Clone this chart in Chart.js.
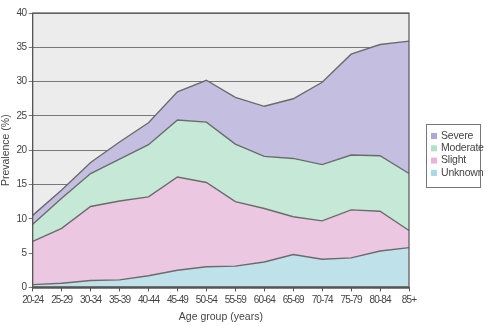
<!DOCTYPE html>
<html><head><meta charset="utf-8">
<script src="https://cdn.jsdelivr.net/npm/chart.js@4/dist/chart.umd.min.js"></script>
<style>html,body{margin:0;padding:0;background:#fff}#w{width:488px;height:326px}</style>
</head><body><div id="w"><canvas id="c" width="488" height="326"></canvas></div>
<script>
const categories = ["20-24","25-29","30-34","35-39","40-44","45-49","50-54","55-59","60-64","65-69","70-74","75-79","80-84","85+"];
const unknownVals  = [0.4,0.6,1.0,1.1,1.7,2.5,3.0,3.1,3.7,4.8,4.1,4.3,5.3,5.8];
const slightVals   = [6.3,8.0,10.8,11.5,11.5,13.6,12.3,9.4,7.8,5.5,5.6,7.0,5.8,2.5];
const moderateVals = [2.5,4.4,4.8,6.1,7.6,8.3,8.8,8.4,7.6,8.5,8.2,8.0,8.1,8.3];
const severeVals   = [1.3,1.2,1.6,2.5,3.2,4.1,6.1,6.8,7.3,8.7,12.0,14.7,16.2,19.3];
const seriesNames = ["Unknown","Slight","Moderate","Severe"];
const seriesColors = ["#bfe1ea","#ecc7e1","#c6e8d6","#c4bfe0"];
const legendColors = ["#a9d8e6","#e8b5d8","#b3e0c7","#aea6d8"];
const yTicks = [0,5,10,15,20,25,30,35,40];

const values = [unknownVals, slightVals, moderateVals, severeVals];
const datasets = values.map((v,i)=>({
  label: seriesNames[i], data: v, backgroundColor: seriesColors[i],
  borderColor: "#6b6b6b", borderWidth: 1.4, pointRadius: 0, tension: 0,
  fill: i===0 ? 'origin' : '-1'
}));

const tickFont = {family: "'Liberation Sans',Arial,sans-serif", size: 10};
const titleFont = {family: "'Liberation Sans',Arial,sans-serif", size: 10.5};

function narrowLabels(scale, spacing){
  if (scale._narrowed) return;
  const orig = scale.drawLabels;
  scale.drawLabels = function(area){
    const ctx = this.ctx; const prev = ctx.letterSpacing;
    ctx.letterSpacing = spacing; orig.call(this, area); ctx.letterSpacing = prev || "0px";
  };
  scale._narrowed = true;
}

const bgPlugin = {
  id:'bg',
  beforeDraw(chart){
    narrowLabels(chart.scales.x, "-0.9px");
    narrowLabels(chart.scales.y, "-0.4px");
    const a = chart.chartArea, ctx = chart.ctx;
    ctx.fillStyle = "#ececec";
    ctx.fillRect(a.left, a.top, a.right-a.left, a.bottom-a.top);
  },
  afterDraw(chart){
    const a = chart.chartArea, ctx = chart.ctx;
    ctx.save(); ctx.strokeStyle="#555"; ctx.lineWidth=1.2;
    ctx.strokeRect(a.left, a.top, a.right-a.left, a.bottom-a.top);
    ctx.lineWidth=2.5;
    ctx.beginPath(); ctx.moveTo(a.left, a.bottom); ctx.lineTo(a.right, a.bottom); ctx.stroke();
    // legend
    const lx=426, ly=124, lw=54, lh=63;
    ctx.fillStyle="#fff"; ctx.fillRect(lx,ly,lw,lh);
    ctx.strokeStyle="#777"; ctx.lineWidth=1; ctx.strokeRect(lx+0.5,ly+0.5,lw,lh);
    ctx.letterSpacing = "-0.2px";
    ctx.font = "10.5px 'Liberation Sans',Arial,sans-serif";
    ctx.textBaseline="middle";
    for(let k=0;k<4;k++){
      const i = 3-k, y = ly+12+k*12.3;
      ctx.fillStyle = legendColors[i]; ctx.fillRect(lx+5, y-3, 6, 6);
      ctx.fillStyle = "#444"; ctx.fillText(seriesNames[i], lx+15, y);
    }
    ctx.restore();
  }
};

new Chart(document.getElementById('c'), {
  type:'line',
  data:{labels: categories, datasets},
  plugins:[bgPlugin],
  options:{
    responsive:false, animation:false,
    layout:{padding:{left:0, right:79, top:13, bottom:3}},
    plugins:{legend:{display:false}, tooltip:{enabled:false}},
    scales:{
      x:{
        offset:false,
        grid:{drawOnChartArea:false, drawTicks:true, tickLength:4, color:"#555"},
        border:{display:true, color:"#555"},
        ticks:{font: tickFont, color:"#444", maxRotation:0, autoSkip:false, padding:3},
        title:{display:true, text:"Age group (years)", font: titleFont, color:"#444", padding:{top:1,bottom:0}}
      },
      y:{
        stacked:true, min:0, max:40,
        afterBuildTicks(ax){ ax.ticks = yTicks.map(v=>({value:v})); },
        grid:{color:"#777", lineWidth:1, drawTicks:true, tickLength:4},
        border:{display:true, color:"#555"},
        ticks:{font: tickFont, color:"#444", padding:2},
        title:{display:true, text:"Prevalence (%)", font: titleFont, color:"#444", padding:{top:0,bottom:1}}
      }
    }
  }
});
</script></body></html>
